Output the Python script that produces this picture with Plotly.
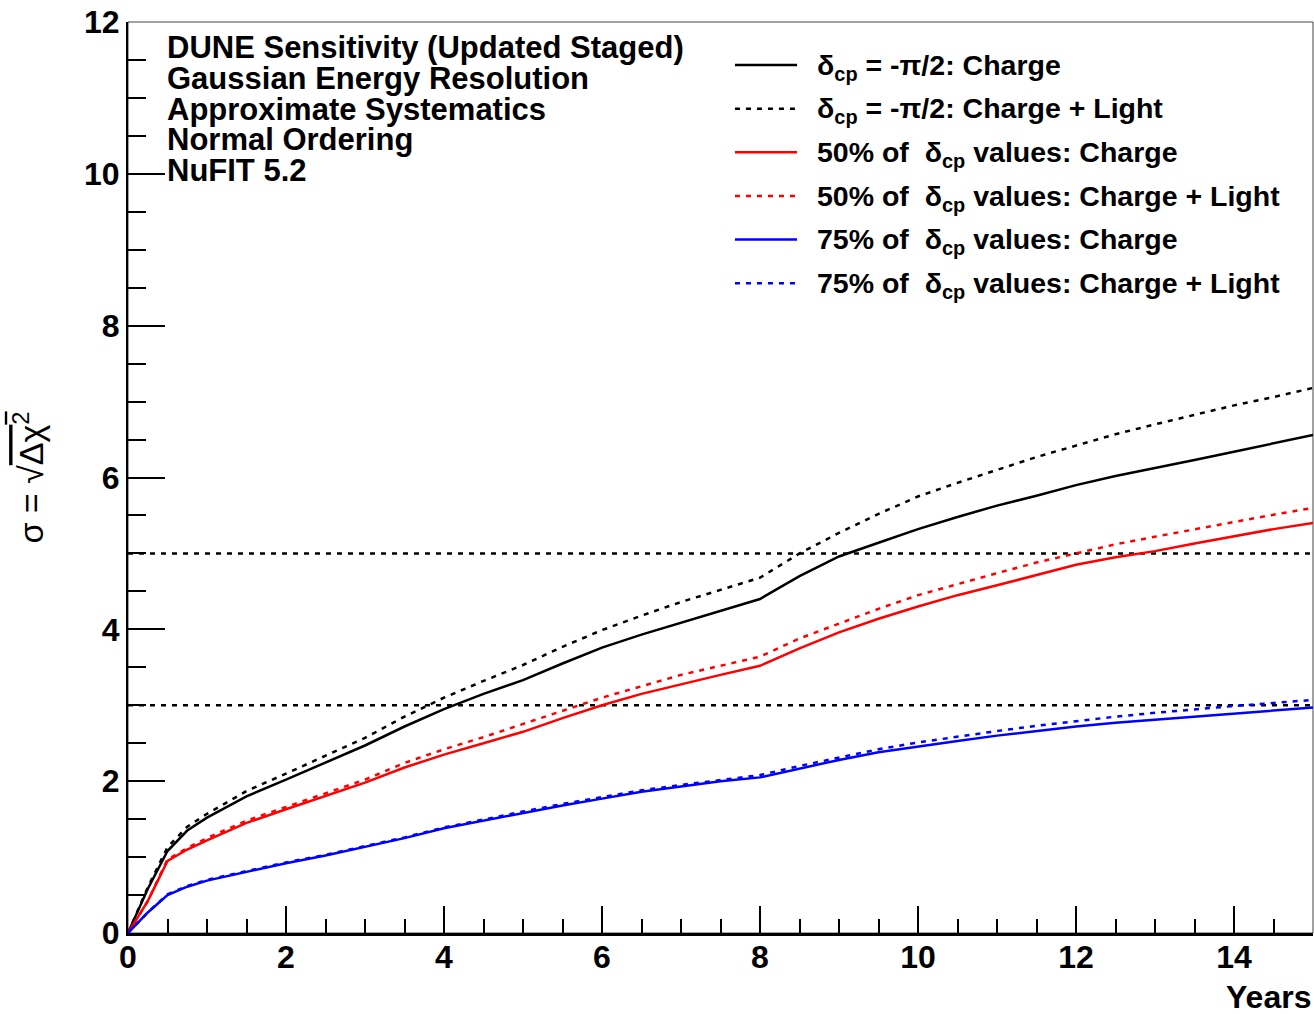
import plotly.graph_objects as go

years = [0, 0.25, 0.5, 0.75, 1, 1.5, 2, 2.5, 3, 3.5, 4, 4.5, 5, 5.5, 6, 6.5, 7, 7.5,
         8, 8.5, 9, 9.5, 10, 10.5, 11, 11.5, 12, 12.5, 13, 13.5, 14, 14.5, 15]

max_charge = [0, 0.58, 1.08, 1.35, 1.52, 1.80, 2.02, 2.25, 2.47, 2.72, 2.95, 3.15, 3.33,
              3.55, 3.76, 3.93, 4.09, 4.25, 4.40, 4.70, 4.96, 5.14, 5.32, 5.48, 5.63,
              5.76, 5.90, 6.02, 6.12, 6.23, 6.34, 6.45, 6.56]
max_light = [0, 0.60, 1.13, 1.40, 1.57, 1.87, 2.10, 2.33, 2.57, 2.85, 3.10, 3.32, 3.53,
             3.77, 3.99, 4.18, 4.36, 4.52, 4.68, 5.00, 5.27, 5.52, 5.75, 5.93, 6.10,
             6.27, 6.42, 6.57, 6.70, 6.83, 6.95, 7.06, 7.18]
p50_charge = [0, 0.42, 0.95, 1.10, 1.22, 1.45, 1.63, 1.80, 1.98, 2.18, 2.35, 2.50, 2.65,
              2.83, 3.00, 3.15, 3.28, 3.40, 3.52, 3.75, 3.96, 4.14, 4.30, 4.45, 4.58,
              4.72, 4.85, 4.95, 5.03, 5.13, 5.22, 5.32, 5.40]
p50_light = [0, 0.42, 0.97, 1.12, 1.25, 1.48, 1.66, 1.84, 2.02, 2.24, 2.42, 2.58, 2.75,
             2.93, 3.10, 3.25, 3.40, 3.52, 3.64, 3.88, 4.08, 4.27, 4.45, 4.60, 4.74,
             4.88, 5.00, 5.12, 5.22, 5.32, 5.42, 5.51, 5.60]
p75_charge = [0, 0.27, 0.50, 0.61, 0.69, 0.81, 0.92, 1.02, 1.13, 1.25, 1.38, 1.48, 1.58,
              1.68, 1.77, 1.86, 1.93, 2.00, 2.05, 2.17, 2.28, 2.38, 2.46, 2.53, 2.60,
              2.66, 2.72, 2.77, 2.81, 2.85, 2.89, 2.93, 2.97]
p75_light = [0, 0.27, 0.51, 0.62, 0.70, 0.82, 0.93, 1.03, 1.14, 1.26, 1.39, 1.50, 1.60,
             1.70, 1.79, 1.88, 1.95, 2.02, 2.08, 2.20, 2.31, 2.42, 2.51, 2.59, 2.66,
             2.73, 2.79, 2.85, 2.90, 2.95, 2.99, 3.03, 3.07]

ref_x = [0, 15]
sigma_levels = [3, 5]

series = [
    ("δ<sub>cp</sub> = -π/2: Charge", max_charge, "#000000", "solid"),
    ("δ<sub>cp</sub> = -π/2: Charge + Light", max_light, "#000000", "5px,6px"),
    ("50% of  δ<sub>cp</sub> values: Charge", p50_charge, "#ff0000", "solid"),
    ("50% of  δ<sub>cp</sub> values: Charge + Light", p50_light, "#ff0000", "5px,6px"),
    ("75% of  δ<sub>cp</sub> values: Charge", p75_charge, "#0000ff", "solid"),
    ("75% of  δ<sub>cp</sub> values: Charge + Light", p75_light, "#0000ff", "5px,6px"),
]

info_lines = ["DUNE Sensitivity (Updated Staged)", "Gaussian Energy Resolution",
              "Approximate Systematics", "Normal Ordering", "NuFIT 5.2"]

FONT = "Liberation Sans, Arial, Helvetica, sans-serif"

fig = go.Figure()

for lvl in sigma_levels:
    fig.add_trace(go.Scatter(x=ref_x, y=[lvl, lvl], mode="lines",
                             line=dict(color="#000000", width=2.5, dash="5px,6px"),
                             showlegend=False, hoverinfo="skip"))

for name, vals, col, dash in series:
    fig.add_trace(go.Scatter(x=years, y=vals, mode="lines", name=name,
                             line=dict(color=col, width=2.5, dash=dash),
                             showlegend=False))

annotations = []
shapes = []

# info text block (top-left)
info_x = 0.031
info_y0 = 0.9715
info_step = 0.0335
for i, t in enumerate(info_lines):
    annotations.append(dict(text=t, xref="paper", yref="paper", x=info_x,
                            y=info_y0 - i * info_step, xanchor="left", yanchor="middle",
                            showarrow=False,
                            font=dict(family=FONT, size=31, color="#000000", weight="bold")))

# manual legend
leg_x0, leg_x1, leg_tx = 0.5122, 0.5646, 0.5797
leg_y0 = 0.9528
leg_step = 0.0479
for i, (name, vals, col, dash) in enumerate(series):
    yy = leg_y0 - i * leg_step
    shapes.append(dict(type="line", xref="paper", yref="paper", x0=leg_x0, x1=leg_x1,
                       y0=yy, y1=yy, line=dict(color=col, width=2.5, dash=dash)))
    annotations.append(dict(text=name, xref="paper", yref="paper", x=leg_tx, y=yy - 0.002,
                            xanchor="left", yanchor="middle", showarrow=False,
                            font=dict(family=FONT, size=28.5, color="#000000", weight="bold")))

# x-axis title at right end
annotations.append(dict(text="Years", xref="paper", yref="paper", x=1.0, y=-0.0703,
                        xanchor="right", yanchor="middle", showarrow=False,
                        font=dict(family=FONT, size=32, color="#000000", weight="bold")))

# top / right frame
shapes.append(dict(type="rect", xref="paper", yref="paper", x0=0, x1=1, y0=0, y1=1,
                   line=dict(color="#444444", width=1), layer="below"))

fig.update_layout(
    width=1314, height=1014,
    margin=dict(l=128, r=1, t=22, b=81),
    paper_bgcolor="white", plot_bgcolor="white",
    annotations=annotations, shapes=shapes,
    showlegend=False,
)

fig.update_xaxes(
    range=[0, 15], showgrid=False, zeroline=False,
    showline=True, linecolor="#000000", linewidth=2.5,
    ticks="inside", ticklen=27, tickwidth=1.5, tickcolor="#000000",
    tick0=0, dtick=2, ticklabelstandoff=-6,
    tickfont=dict(family=FONT, size=32, color="#000000", weight="bold"),
    minor=dict(ticks="inside", ticklen=14, tickwidth=1.5, tickcolor="#000000", dtick=0.5,
               showgrid=False),
)
fig.update_yaxes(
    range=[0, 12], showgrid=False, zeroline=False,
    showline=True, linecolor="#000000", linewidth=2,
    ticks="inside", ticklen=37, tickwidth=1.5, tickcolor="#000000",
    tick0=0, dtick=2, ticklabelstandoff=0,
    tickfont=dict(family=FONT, size=32, color="#000000", weight="bold"),
    minor=dict(ticks="inside", ticklen=18, tickwidth=1.5, tickcolor="#000000", dtick=0.5,
               showgrid=False),
    title=dict(text="σ = √<span style='text-decoration:overline'>Δχ<sup>2</sup></span>",
               font=dict(family=FONT, size=34, color="#000000"), standoff=30),
)

fig.write_html("out.html")
